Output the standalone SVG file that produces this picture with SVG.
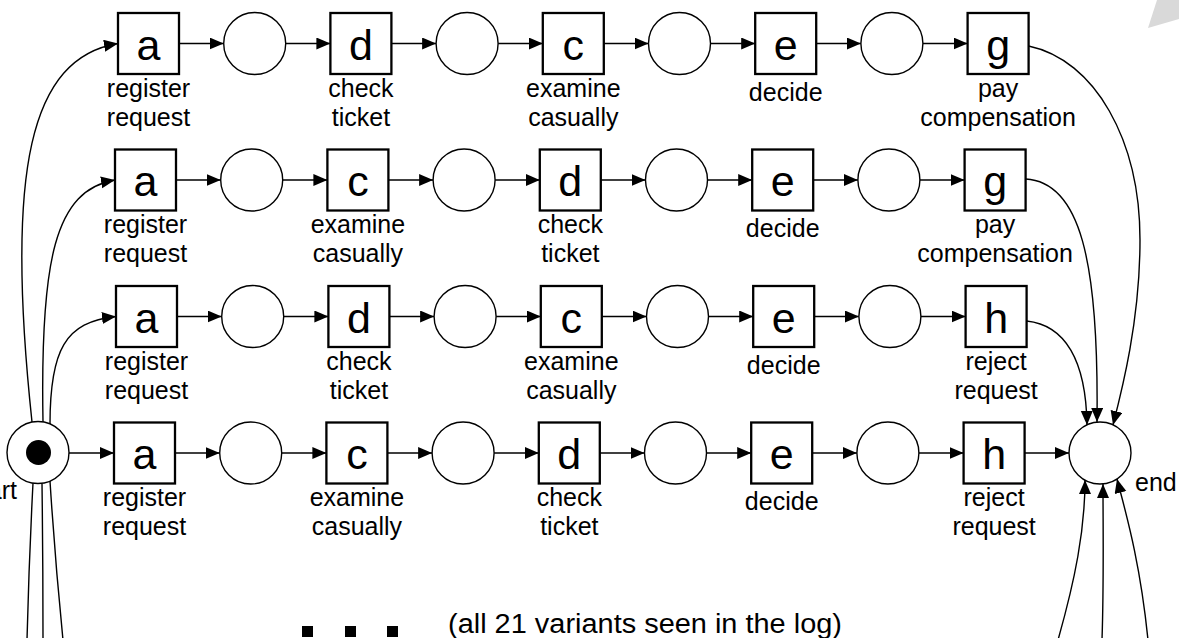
<svg xmlns="http://www.w3.org/2000/svg" width="1179" height="638" viewBox="0 0 1179 638">
<style>
.box{fill:#fff;stroke:#000;stroke-width:2.3}
.pl{fill:#fff;stroke:#000;stroke-width:1.4}
.big{font-family:"Liberation Sans",Arial,sans-serif;font-size:43px;text-anchor:middle;fill:#000}
.lbl{font-family:"Liberation Sans",Arial,sans-serif;font-size:25px;text-anchor:middle;fill:#000}
.arc{fill:none;stroke:#000;stroke-width:1.4;marker-end:url(#ah)}
.ln{fill:none;stroke:#000;stroke-width:1.4}
</style>
<defs>
<marker id="ah" markerUnits="userSpaceOnUse" markerWidth="15" markerHeight="13" refX="14" refY="6" orient="auto">
<path d="M0,0 L14,6 L0,12 z" fill="#000"/>
</marker>
</defs>
<rect width="1179" height="638" fill="#fff"/>
<polygon points="1148,28 1157,0 1179,0 1179,19" fill="#d9d9d9"/>

<g id="connectors">
<!-- row 1 -->
<path class="arc" d="M179,43.5 H223.7"/>
<path class="arc" d="M285.7,43.5 H330.4"/>
<path class="arc" d="M391.4,43.5 H436.1"/>
<path class="arc" d="M498.1,43.5 H542.8"/>
<path class="arc" d="M603.8,43.5 H648.5"/>
<path class="arc" d="M710.5,43.5 H755.2"/>
<path class="arc" d="M816.2,43.5 H860.9"/>
<path class="arc" d="M922.9,43.5 H967.6"/>
<!-- row 2 -->
<path class="arc" d="M176,180 H220.7"/>
<path class="arc" d="M282.7,180 H327.4"/>
<path class="arc" d="M388.4,180 H433.1"/>
<path class="arc" d="M495.1,180 H539.8"/>
<path class="arc" d="M600.8,180 H645.5"/>
<path class="arc" d="M707.5,180 H752.2"/>
<path class="arc" d="M813.2,180 H857.9"/>
<path class="arc" d="M919.9,180 H964.6"/>
<!-- row 3 -->
<path class="arc" d="M177,316.5 H221.7"/>
<path class="arc" d="M283.7,316.5 H328.4"/>
<path class="arc" d="M389.4,316.5 H434.1"/>
<path class="arc" d="M496.1,316.5 H540.8"/>
<path class="arc" d="M601.8,316.5 H646.5"/>
<path class="arc" d="M708.5,316.5 H753.2"/>
<path class="arc" d="M814.2,316.5 H858.9"/>
<path class="arc" d="M920.9,316.5 H965.6"/>
<!-- row 4 -->
<path class="arc" d="M69,453 H114"/>
<path class="arc" d="M175,453 H219.7"/>
<path class="arc" d="M281.7,453 H326.4"/>
<path class="arc" d="M387.4,453 H432.1"/>
<path class="arc" d="M494.1,453 H538.8"/>
<path class="arc" d="M599.8,453 H644.5"/>
<path class="arc" d="M706.5,453 H751.2"/>
<path class="arc" d="M812.2,453 H856.9"/>
<path class="arc" d="M918.9,453 H963.6"/>
<path class="arc" d="M1024.6,453 H1069"/>
<!-- from start -->
<path class="arc" d="M32,422 C5,170 30,58 118,43.5"/>
<path class="arc" d="M43,422 C40,260 55,190 115,180"/>
<path class="arc" d="M50,424 C50,350 65,322 116,316.5"/>
<path class="ln" d="M33,483 Q29,560 27,640"/>
<path class="ln" d="M42,483.5 Q43,560 43,640"/>
<path class="ln" d="M50,481 Q55,560 63,640"/>
<!-- to end -->
<path class="arc" d="M1028.6,46 C1095,60 1140,140 1140,240 C1140,320 1122,390 1113,425"/>
<path class="arc" d="M1025.6,179 C1080,182 1099,260 1097,422"/>
<path class="arc" d="M1026.6,321 C1065,325 1086,360 1087,425"/>
<path class="arc" d="M1058,640 C1075,580 1085,530 1085,480"/>
<path class="arc" d="M1102,640 C1104,580 1103,530 1103,484"/>
<path class="arc" d="M1148,640 C1140,560 1125,510 1117,479"/>
</g>

<g id="start">
<circle class="pl" cx="38" cy="452.5" r="31"/>
<circle cx="38.5" cy="452.5" r="12.5" fill="#000"/>
<text class="lbl" x="17" y="499" style="text-anchor:end">start</text>
</g>
<g id="end">
<circle class="pl" cx="1100" cy="453" r="31"/>
<text class="lbl" x="1135" y="491" style="text-anchor:start">end</text>
</g>

<!-- row 1 -->
<g id="r1-a" transform="translate(148.5,43.5)"><rect class="box" x="-30.5" y="-30.5" width="61" height="61"/><text class="big" y="16">a</text><text class="lbl" y="53">register</text><text class="lbl" y="82">request</text></g>
<g id="r1-p1"><circle class="pl" cx="254.7" cy="43.5" r="31"/></g>
<g id="r1-d" transform="translate(360.9,43.5)"><rect class="box" x="-30.5" y="-30.5" width="61" height="61"/><text class="big" y="16">d</text><text class="lbl" y="53">check</text><text class="lbl" y="82">ticket</text></g>
<g id="r1-p2"><circle class="pl" cx="467.1" cy="43.5" r="31"/></g>
<g id="r1-c" transform="translate(573.3,43.5)"><rect class="box" x="-30.5" y="-30.5" width="61" height="61"/><text class="big" y="16">c</text><text class="lbl" y="53">examine</text><text class="lbl" y="82">casually</text></g>
<g id="r1-p3"><circle class="pl" cx="679.5" cy="43.5" r="31"/></g>
<g id="r1-e" transform="translate(785.7,43.5)"><rect class="box" x="-30.5" y="-30.5" width="61" height="61"/><text class="big" y="16">e</text><text class="lbl" y="57">decide</text></g>
<g id="r1-p4"><circle class="pl" cx="891.9" cy="43.5" r="31"/></g>
<g id="r1-g" transform="translate(998.1,43.5)"><rect class="box" x="-30.5" y="-30.5" width="61" height="61"/><text class="big" y="16">g</text><text class="lbl" y="53">pay</text><text class="lbl" y="82">compensation</text></g>

<!-- row 2 -->
<g id="r2-a" transform="translate(145.5,180)"><rect class="box" x="-30.5" y="-30.5" width="61" height="61"/><text class="big" y="16">a</text><text class="lbl" y="53">register</text><text class="lbl" y="82">request</text></g>
<g id="r2-p1"><circle class="pl" cx="251.7" cy="180" r="31"/></g>
<g id="r2-c" transform="translate(357.9,180)"><rect class="box" x="-30.5" y="-30.5" width="61" height="61"/><text class="big" y="16">c</text><text class="lbl" y="53">examine</text><text class="lbl" y="82">casually</text></g>
<g id="r2-p2"><circle class="pl" cx="464.1" cy="180" r="31"/></g>
<g id="r2-d" transform="translate(570.3,180)"><rect class="box" x="-30.5" y="-30.5" width="61" height="61"/><text class="big" y="16">d</text><text class="lbl" y="53">check</text><text class="lbl" y="82">ticket</text></g>
<g id="r2-p3"><circle class="pl" cx="676.5" cy="180" r="31"/></g>
<g id="r2-e" transform="translate(782.7,180)"><rect class="box" x="-30.5" y="-30.5" width="61" height="61"/><text class="big" y="16">e</text><text class="lbl" y="57">decide</text></g>
<g id="r2-p4"><circle class="pl" cx="888.9" cy="180" r="31"/></g>
<g id="r2-g" transform="translate(995.1,180)"><rect class="box" x="-30.5" y="-30.5" width="61" height="61"/><text class="big" y="16">g</text><text class="lbl" y="53">pay</text><text class="lbl" y="82">compensation</text></g>

<!-- row 3 -->
<g id="r3-a" transform="translate(146.5,316.5)"><rect class="box" x="-30.5" y="-30.5" width="61" height="61"/><text class="big" y="16">a</text><text class="lbl" y="53">register</text><text class="lbl" y="82">request</text></g>
<g id="r3-p1"><circle class="pl" cx="252.7" cy="316.5" r="31"/></g>
<g id="r3-d" transform="translate(358.9,316.5)"><rect class="box" x="-30.5" y="-30.5" width="61" height="61"/><text class="big" y="16">d</text><text class="lbl" y="53">check</text><text class="lbl" y="82">ticket</text></g>
<g id="r3-p2"><circle class="pl" cx="465.1" cy="316.5" r="31"/></g>
<g id="r3-c" transform="translate(571.3,316.5)"><rect class="box" x="-30.5" y="-30.5" width="61" height="61"/><text class="big" y="16">c</text><text class="lbl" y="53">examine</text><text class="lbl" y="82">casually</text></g>
<g id="r3-p3"><circle class="pl" cx="677.5" cy="316.5" r="31"/></g>
<g id="r3-e" transform="translate(783.7,316.5)"><rect class="box" x="-30.5" y="-30.5" width="61" height="61"/><text class="big" y="16">e</text><text class="lbl" y="57">decide</text></g>
<g id="r3-p4"><circle class="pl" cx="889.9" cy="316.5" r="31"/></g>
<g id="r3-h" transform="translate(996.1,316.5)"><rect class="box" x="-30.5" y="-30.5" width="61" height="61"/><text class="big" y="16">h</text><text class="lbl" y="53">reject</text><text class="lbl" y="82">request</text></g>

<!-- row 4 -->
<g id="r4-a" transform="translate(144.5,453)"><rect class="box" x="-30.5" y="-30.5" width="61" height="61"/><text class="big" y="16">a</text><text class="lbl" y="53">register</text><text class="lbl" y="82">request</text></g>
<g id="r4-p1"><circle class="pl" cx="250.7" cy="453" r="31"/></g>
<g id="r4-c" transform="translate(356.9,453)"><rect class="box" x="-30.5" y="-30.5" width="61" height="61"/><text class="big" y="16">c</text><text class="lbl" y="53">examine</text><text class="lbl" y="82">casually</text></g>
<g id="r4-p2"><circle class="pl" cx="463.1" cy="453" r="31"/></g>
<g id="r4-d" transform="translate(569.3,453)"><rect class="box" x="-30.5" y="-30.5" width="61" height="61"/><text class="big" y="16">d</text><text class="lbl" y="53">check</text><text class="lbl" y="82">ticket</text></g>
<g id="r4-p3"><circle class="pl" cx="675.5" cy="453" r="31"/></g>
<g id="r4-e" transform="translate(781.7,453)"><rect class="box" x="-30.5" y="-30.5" width="61" height="61"/><text class="big" y="16">e</text><text class="lbl" y="57">decide</text></g>
<g id="r4-p4"><circle class="pl" cx="887.9" cy="453" r="31"/></g>
<g id="r4-h" transform="translate(994.1,453)"><rect class="box" x="-30.5" y="-30.5" width="61" height="61"/><text class="big" y="16">h</text><text class="lbl" y="53">reject</text><text class="lbl" y="82">request</text></g>

<g id="more">
<rect x="302" y="626" width="11" height="11" fill="#000"/>
<rect x="345" y="626" width="11" height="11" fill="#000"/>
<rect x="387" y="626" width="11" height="11" fill="#000"/>
<text class="lbl" x="448" y="633" style="text-anchor:start;font-size:27px" textLength="394" lengthAdjust="spacingAndGlyphs">(all 21 variants seen in the log)</text>
</g>
</svg>
